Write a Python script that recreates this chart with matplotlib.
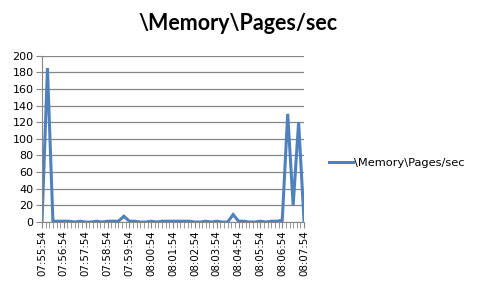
import matplotlib.pyplot as plt
from matplotlib.ticker import MultipleLocator

# samples every 15 s, from 07:55:54 to 08:07:54
start = "07:55:54"
step_sec = 15
pages_sec = [0, 185, 1, 1, 1, 1, 0, 1, 0, 0, 1, 0, 1, 1, 1, 7,
             1, 1, 0, 0, 1, 0, 1, 1, 1, 1, 1, 1, 0, 0, 1, 0,
             1, 0, 0, 9, 1, 1, 0, 0, 1, 0, 1, 1, 2, 130, 20, 120, 0]
tick_labels = ["07:55:54", "07:56:54", "07:57:54", "07:58:54", "07:59:54",
               "08:00:54", "08:01:54", "08:02:54", "08:03:54", "08:04:54",
               "08:05:54", "08:06:54", "08:07:54"]

x = [i * step_sec for i in range(len(pages_sec))]
grey = "#868686"

fig = plt.figure(figsize=(4.8, 2.88), dpi=100)
ax = fig.add_axes([0.0875, 0.229, 0.546, 0.578])
ax.plot(x, pages_sec, color="#4F81BD", linewidth=2.2, label="\\Memory\\Pages/sec",
        solid_joinstyle="miter")

ax.set_xlim(0, 720)
ax.set_ylim(0, 200)
ax.set_yticks(range(0, 201, 20))
ax.set_xticks(range(0, 721, 60))
ax.set_xticklabels(tick_labels, rotation=90, fontsize=7.4, family="DejaVu Sans")
ax.xaxis.set_minor_locator(MultipleLocator(10))
ax.tick_params(axis="y", labelsize=8, length=4, color=grey, pad=2)
ax.tick_params(axis="x", which="both", length=4, color=grey, pad=2, direction="out")
ax.grid(axis="y", color=grey, linewidth=0.9)
ax.set_axisbelow(True)
for s in ["top", "right"]:
    ax.spines[s].set_visible(False)
for s in ["left", "bottom"]:
    ax.spines[s].set_color(grey)

fig.text(0.496, 0.918, "\\Memory\\Pages/sec", ha="center", va="center",
         fontsize=15.5, fontweight="bold", family="Lato")
fig.legend(loc="center left", bbox_to_anchor=(0.665, 0.434), frameon=False,
           fontsize=8.2, handlelength=2.1, handletextpad=0.05)

plt.savefig("out.png")
